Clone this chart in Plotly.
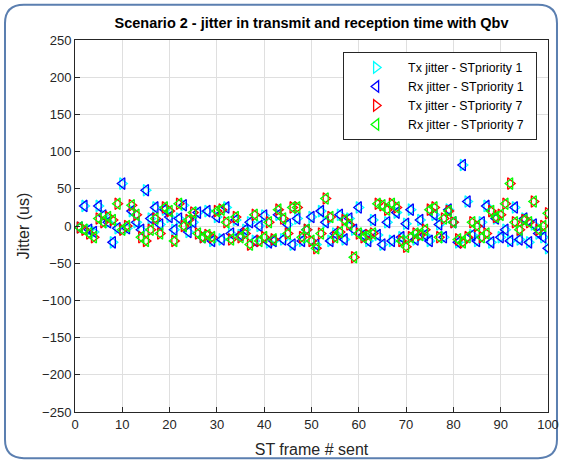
import plotly.graph_objects as go

frames = list(range(1, 101))

jitter_p1 = [-2, 27, -5, -8, 27, 14, 5, -22, -3, 57,
             -3, 20, 5, -5, 48, 10, 25, 2, 22, 12,
             -5, 10, 28, -8, 5, 18, -15, 20, -20, 12,
             -18, 25, -10, 8, -12, -5, 5, -20, 0, 14,
             -22, -20, 15, -18, 2, -25, 10, -20, -5, 12,
             -25, 20, 5, -20, -10, 15, -18, 10, -5, 25,
             -12, -20, 8, -12, -25, 5, -20, 18, -15, 3,
             22, -18, 8, -12, -20, 15, 2, -15, 22, 5,
             -22, 82, 33, -12, -20, 5, 27, -22, 10, -15,
             -5, -20, 25, -18, 10, -22, 2, -10, -15, -30]

jitter_p7 = [-2, -5, -10, -15, 10, 5, 12, 8, 30, -5,
             0, 28, 15, -15, -20, -5, 10, -10, 25, 20,
             -20, 30, 0, 8, 18, -10, -15, -12, -15, 20,
             22, 5, -18, 12, -15, -10, -25, 15, -20, -15,
             5, -18, 22, 10, -10, 25, 25, -15, -5, -20,
             -30, -10, 37, 12, -15, -8, 8, 2, -42, -10,
             -15, -12, -10, 30, 28, 22, 30, 25, -20, -28,
             -15, -10, -12, -5, 22, 25, -15, 10, 20, 5,
             -18, -22, -15, 5, 0, -15, -10, 20, 12, 15,
             30, 57, 5, -5, 8, 5, 33, -5, 0, 17]

x_ticks = list(range(0, 101, 10))
y_ticks = list(range(-250, 251, 50))

series = [
    ("Tx jitter - STpriority 1", jitter_p1, "triangle-right-open", "#00FFFF"),
    ("Rx jitter - STpriority 1", jitter_p1, "triangle-left-open", "#0000FF"),
    ("Tx jitter - STpriority 7", jitter_p7, "triangle-right-open", "#FF0000"),
    ("Rx jitter - STpriority 7", jitter_p7, "triangle-left-open", "#00FF00"),
]

fig = go.Figure()
for name, vals, sym, col in series:
    fig.add_trace(go.Scatter(
        x=frames, y=vals, mode="markers", name=name + "\u00a0\u00a0",
        marker=dict(symbol=sym, size=10, color=col, line=dict(color=col, width=1.3)),
    ))

axis_common = dict(
    showline=True, linecolor="#262626", linewidth=1, mirror=True,
    ticks="inside", ticklen=5, tickcolor="#262626",
    showgrid=True, gridcolor="#DFDFDF", gridwidth=1,
    zeroline=False, automargin=False,
    tickfont=dict(family="Liberation Sans, Arial", size=13, color="#262626"),
)

fig.update_layout(
    width=563, height=463,
    margin=dict(l=75, r=15, t=40, b=51),
    paper_bgcolor="white", plot_bgcolor="white",
    title=dict(text="<b>Scenario 2 - jitter in transmit and reception time with Qbv</b>",
               x=0.5, xref="paper", xanchor="center", y=0.95, yanchor="middle",
               font=dict(family="Liberation Sans, Arial", size=14.5, color="black")),
    xaxis=dict(range=[0, 100], tickvals=x_ticks,
               title=dict(text="ST frame # sent", standoff=13,
                          font=dict(family="Liberation Sans, Arial", size=16, color="#262626")),
               **axis_common),
    yaxis=dict(range=[-250, 250], tickvals=y_ticks,
               title=dict(text="Jitter (us)", standoff=8,
                          font=dict(family="Liberation Sans, Arial", size=16, color="#262626")),
               **axis_common),
    legend=dict(x=0.977, y=0.968, xanchor="right", yanchor="top",
                bgcolor="white", bordercolor="#262626", borderwidth=1,
                font=dict(family="Liberation Sans, Arial", size=12.3, color="black"),
                itemwidth=54, tracegroupgap=0),
    showlegend=True,
)

# rounded frame around the whole figure (paper coordinates)
x0, x1 = -0.148, 1.019
y0, y1 = -0.124, 1.095
rx, ry = 0.04, 0.05
path = (f"M {x0+rx},{y1} L {x1-rx},{y1} Q {x1},{y1} {x1},{y1-ry} "
        f"L {x1},{y0+ry} Q {x1},{y0} {x1-rx},{y0} "
        f"L {x0+rx},{y0} Q {x0},{y0} {x0},{y0+ry} "
        f"L {x0},{y1-ry} Q {x0},{y1} {x0+rx},{y1} Z")
fig.add_shape(type="path", path=path, xref="paper", yref="paper",
              line=dict(color="#5B7FB0", width=2), layer="below")

fig.write_html("out.html")
